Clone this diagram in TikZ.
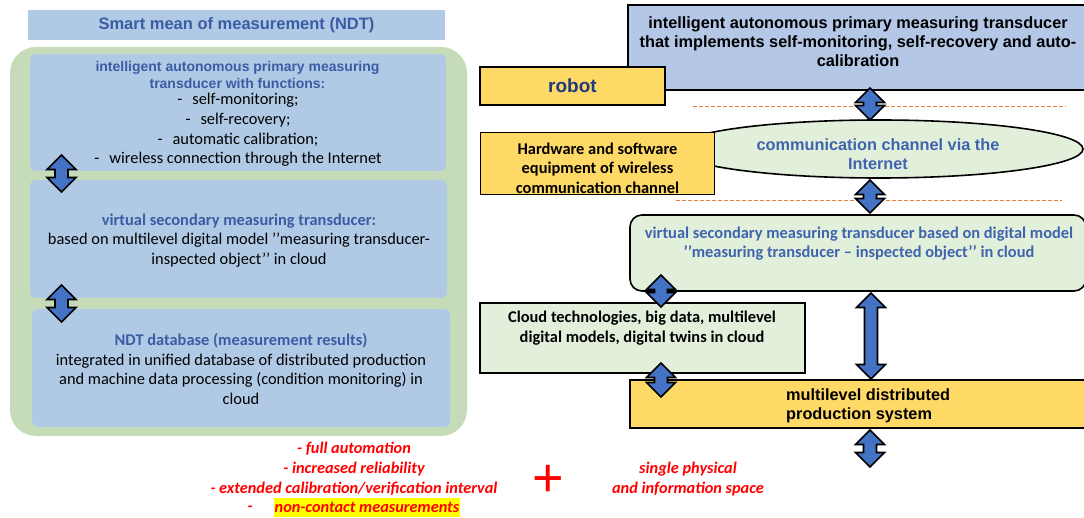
\documentclass[tikz,border=0pt]{standalone}
\usepackage{fontspec}
\setmainfont{Liberation Sans}
\newfontfamily\calib{Carlito}
\usetikzlibrary{shapes.geometric,calc}

\definecolor{paneblue}{HTML}{B0CAE6}
\definecolor{panegreen}{HTML}{C6DCB8}
\definecolor{topblue}{HTML}{B4C7E7}
\definecolor{boxyellow}{HTML}{FFD966}
\definecolor{palegreen}{HTML}{E2EFDA}
\definecolor{headblue}{HTML}{3B5CA3}
\definecolor{textblue}{HTML}{3E64AE}
\definecolor{robotblue}{HTML}{1F3A7D}
\definecolor{arrowblue}{HTML}{4472C4}
\definecolor{dashorange}{HTML}{E8803C}
\definecolor{hlyellow}{HTML}{FFFF00}

\newcommand\vdblarrow[2]{%
  \filldraw[blockarr] let \p1=(#1), \p2=(#2) in
    (\x1,\y1) -- (\x1+14.5pt,\y1-14.5pt) -- (\x1+6.5pt,\y1-14.5pt)
    -- (\x1+6.5pt,\y2+14.5pt) -- (\x1+14.5pt,\y2+14.5pt) -- (\x1,\y2)
    -- (\x1-14.5pt,\y2+14.5pt) -- (\x1-6.5pt,\y2+14.5pt)
    -- (\x1-6.5pt,\y1-14.5pt) -- (\x1-14.5pt,\y1-14.5pt) -- cycle;}

\begin{document}
\begin{tikzpicture}[x=1pt,y=-1pt,
  panel/.style={fill=paneblue, draw=none, rounded corners=6pt, inner sep=0pt},
  framed/.style={draw=black, line width=1.6pt, inner sep=0pt},
  blockarr/.style={fill=arrowblue, draw=black, line width=1.6pt, line join=miter},
  sanshead/.style={font=\fontsize{14}{17}\selectfont\bfseries, text=headblue, align=center, inner sep=0pt},
  calibtext/.style={font=\calib\fontsize{16.4}{19.6}\selectfont, align=center, inner sep=0pt},
  sansbold/.style={font=\fontsize{16.3}{19}\selectfont\bfseries, align=center, inner sep=0pt},
  calibbold/.style={font=\calib\fontsize{16.4}{19.5}\selectfont\bfseries, align=center, inner sep=0pt},
  redtext/.style={font=\calib\fontsize{16.3}{20}\selectfont\bfseries\itshape, text=red, align=center, inner sep=0pt},
  orangedash/.style={draw=dashorange, line width=0.9pt, dash pattern=on 4pt off 2pt}
]
\useasboundingbox (0,0) rectangle (1084,518);

% ---------------- left column: smart mean of measurement ----------------
\node[fill=paneblue, minimum width=417pt, minimum height=30pt, inner sep=0pt,
      font=\fontsize{16.5}{18}\selectfont\bfseries, text=headblue]
  (title) at (236.5,25) {Smart mean of measurement (NDT)};

\node[fill=panegreen, rounded corners=26pt, minimum width=457pt, minimum height=389pt, inner sep=0pt]
  (frame) at (238.5,241.5) {};

\node[panel, minimum width=416pt, minimum height=117pt] (p1) at (238,112.5) {};
\node[panel, minimum width=417pt, minimum height=118pt] (p2) at (238.5,239) {};
\node[panel, minimum width=418pt, minimum height=118pt] (p3) at (241,368) {};

\node[sanshead] (p1head) at (237.5,75)
  {intelligent autonomous primary measuring\\ transducer with functions:};
\node[calibtext] (p1list) at (238,130)
  {-\hspace{10pt}self-monitoring;\\
   -\hspace{10pt}self-recovery;\\
   -\hspace{10pt}automatic calibration;\\
   -\hspace{10pt}wireless connection through the Internet};

\node[calibtext] (p2text) at (239,240.5)
  {{\bfseries\color{headblue}virtual secondary measuring transducer:}\\
   based on multilevel digital model ’’measuring transducer-\\
   inspected object’’ in cloud};

\node[calibtext] (p3text) at (241,369)
  {{\bfseries\color{headblue}NDT database (measurement results)}\\
   integrated in unified database of distributed production\\
   and machine data processing (condition monitoring) in\\
   cloud};

\coordinate (la1) at (61.5,155);
\coordinate (la2) at (61.5,192);
\coordinate (lb1) at (61.5,285);
\coordinate (lb2) at (61.5,322);
\vdblarrow{la1}{la2}
\vdblarrow{lb1}{lb2}

% ---------------- right column: system structure ----------------
\node[framed, fill=topblue, minimum width=458pt, minimum height=85pt] (sensor) at (857,47.5) {};
\node[sansbold] (sensortext) at (858,41.5)
  {intelligent autonomous primary measuring transducer\\
   that implements self-monitoring, self-recovery and auto-\\
   calibration};

\node[framed, fill=boxyellow, minimum width=185pt, minimum height=38pt,
      font=\fontsize{19}{21}\selectfont\bfseries, text=robotblue]
  (robot) at (572.5,86) {robot};

\coordinate (d1a) at (693,106);
\coordinate (d1b) at (1066,106);
\draw[orangedash] (d1a) -- (d1b);

\node[ellipse, draw=black, line width=1.6pt, fill=palegreen, minimum width=408pt, minimum height=58pt, inner sep=0pt]
  (channel) at (879,149) {};
\node[sansbold, text=textblue] (channeltext) at (878,154)
  {communication channel via the\\ Internet};

\node[framed, fill=boxyellow, minimum width=234pt, minimum height=62pt] (hw) at (597.5,163.5) {};
\node[calibbold] (hwtext) at (597.5,168)
  {Hardware and software\\ equipment of wireless\\ communication channel};

\coordinate (d2a) at (676,200);
\coordinate (d2b) at (1062,200);
\draw[orangedash] (d2a) -- (d2b);

\node[framed, fill=palegreen, rounded corners=12pt, minimum width=456pt, minimum height=76pt] (virtual) at (858,253) {};
\node[calibbold, text=textblue] (virtualtext) at (859,243.5)
  {virtual secondary measuring transducer based on digital model\\
   ’’measuring transducer – inspected object’’ in cloud};

\node[framed, fill=palegreen, minimum width=325pt, minimum height=70pt] (cloud) at (642.5,338) {};
\node[calibbold] (cloudtext) at (642,328)
  {Cloud technologies, big data, multilevel\\ digital models, digital twins in cloud};

\node[framed, fill=boxyellow, minimum width=456pt, minimum height=48pt] (prod) at (858,404) {};
\node[sansbold, align=left, anchor=west] (prodtext) at (786,405.5)
  {multilevel distributed\\ production system};

% connectors between the levels
\coordinate (ra1) at (870,88);
\coordinate (ra2) at (870,120);
\coordinate (rb1) at (870,180);
\coordinate (rb2) at (870,213);
\coordinate (rc1) at (661,275);
\coordinate (rc2) at (661,307);
\coordinate (rd1) at (871,293);
\coordinate (rd2) at (871,379);
\coordinate (re1) at (661,363);
\coordinate (re2) at (661,397);
\coordinate (rf1) at (870,430);
\coordinate (rf2) at (870,467);
\vdblarrow{ra1}{ra2}
\vdblarrow{rb1}{rb2}
\vdblarrow{rc1}{rc2}
\vdblarrow{rd1}{rd2}
\vdblarrow{re1}{re2}
\vdblarrow{rf1}{rf2}

% ---------------- bottom: outcomes ----------------
\node[redtext] (benefits) at (354,468.5)
  {- full automation\\ - increased reliability\\ - extended calibration/verification interval};
\node[redtext] (dash4) at (250,509) {-};
\node[redtext, fill=hlyellow, minimum width=186pt, minimum height=19pt] (noncontact) at (367,507.5)
  {non-contact measurements};

\node[font=\fontsize{54}{54}\selectfont, text=red, inner sep=0pt] (plus) at (548,481) {+};

\node[redtext] (space) at (688,479.5)
  {single physical\\ and information space};

\end{tikzpicture}
\end{document}
